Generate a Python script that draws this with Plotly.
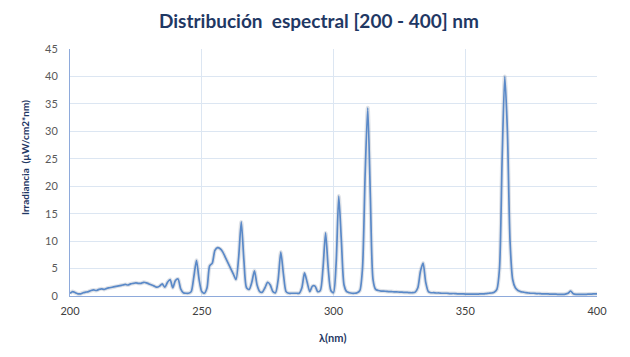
import plotly.graph_objects as go

wavelength = list(range(200, 401))

irradiance = [
    # 200-209
    0.5, 0.8, 0.6, 0.4, 0.4, 0.6, 0.7, 0.8, 1.0, 1.1,
    # 210-219
    1.0, 1.2, 1.3, 1.2, 1.4, 1.5, 1.6, 1.7, 1.8, 1.9,
    # 220-229
    2.0, 2.1, 2.0, 2.2, 2.3, 2.4, 2.3, 2.3, 2.5, 2.4,
    # 230-239
    2.2, 2.0, 1.8, 1.6, 1.8, 2.2, 1.6, 2.5, 3.0, 1.5,
    # 240-249
    2.8, 3.1, 1.3, 0.6, 0.5, 0.5, 0.8, 3.5, 6.5, 3.0,
    # 250-259
    0.8, 0.5, 1.5, 5.5, 6.0, 8.3, 8.8, 8.6, 8.0, 7.0,
    # 260-269
    6.0, 5.0, 4.0, 3.0, 7.0, 13.5, 6.5, 1.5, 1.2, 2.5,
    # 270-279
    4.6, 2.0, 0.8, 0.7, 1.5, 2.5, 2.0, 0.8, 0.6, 3.0,
    # 280-289
    8.0, 4.0, 0.8, 0.5, 0.5, 0.5, 0.5, 0.5, 1.5, 4.2,
    # 290-299
    2.5, 0.8, 1.8, 1.8, 0.8, 1.0, 5.0, 11.5, 5.0, 1.0,
    # 300-309
    0.6, 6.0, 18.2, 10.0, 2.0, 0.8, 0.6, 0.5, 0.5, 0.6,
    # 310-319
    1.0, 5.0, 22.0, 34.3, 18.0, 3.0, 1.2, 1.0, 0.9, 0.9,
    # 320-329
    0.85, 0.8, 0.8, 0.75, 0.75, 0.7, 0.7, 0.65, 0.65, 0.6,
    # 330-339
    0.6, 0.7, 1.5, 4.5, 6.0, 2.5, 0.8, 0.6, 0.6, 0.55,
    # 340-349
    0.55, 0.5, 0.5, 0.5, 0.45, 0.45, 0.45, 0.4, 0.4, 0.4,
    # 350-359
    0.35, 0.35, 0.35, 0.35, 0.35, 0.35, 0.4, 0.4, 0.45, 0.5,
    # 360-369
    0.55, 0.7, 1.2, 5.0, 25.0, 40.0, 30.0, 10.0, 3.0, 1.5,
    # 370-379
    1.0, 0.8, 0.7, 0.6, 0.55, 0.5, 0.5, 0.45, 0.45, 0.4,
    # 380-389
    0.4, 0.4, 0.35, 0.35, 0.35, 0.3, 0.3, 0.3, 0.35, 0.5,
    # 390-399
    0.9, 0.4, 0.3, 0.3, 0.3, 0.3, 0.3, 0.35, 0.35, 0.4,
    # 400
    0.4,
]

x_ticks = [200, 250, 300, 350, 400]
y_ticks = [0, 5, 10, 15, 20, 25, 30, 35, 40, 45]

title_text = "Distribución  espectral [200 - 400] nm"
x_title = "λ(nm)"
y_title = "Irradiancia  (µW/cm2*nm)"

# page body has an 8px margin, so the figure is drawn 8px in from the window corner
OFF = 8
W, H = 622, 349
ml, mt = 70 - OFF, 49 - OFF
plot_r, plot_b = 597 - OFF, 296 - OFF
mr, mb = W - plot_r, H - plot_b
pw, ph = W - ml - mr, H - mt - mb

navy = "#1f3864"
font_family = "Lato, 'Open Sans', sans-serif"

fig = go.Figure()
# soft shadow under the line
fig.add_trace(go.Scatter(
    x=wavelength, y=irradiance, mode="lines",
    line=dict(color="rgba(150,160,175,0.3)", width=4, shape="spline", smoothing=0.7),
    hoverinfo="skip", showlegend=False,
))
fig.add_trace(go.Scatter(
    x=wavelength, y=irradiance, mode="lines",
    line=dict(color="#5a89c8", width=1.7, shape="spline", smoothing=0.7),
    showlegend=False,
))

fig.update_layout(
    width=W, height=H,
    margin=dict(l=ml, r=mr, t=mt, b=mb, autoexpand=False),
    paper_bgcolor="white", plot_bgcolor="white",
    font=dict(family=font_family, color="#595959", size=11),
    title=dict(text=f"<b>{title_text}</b>", x=0.5, xanchor="center",
               y=1 - (21 - OFF) / H, yanchor="middle",
               font=dict(size=19, color=navy, family=font_family)),
    showlegend=False,
)
fig.update_xaxes(
    range=[200, 400], tickvals=x_ticks, ticktext=[str(t) for t in x_ticks],
    showgrid=True, gridcolor="#dce6f2", gridwidth=1,
    showline=True, linecolor="#8eaadb", linewidth=1,
    zeroline=False, ticks="", ticklabelstandoff=5,
    tickfont=dict(size=11, color="#404040"),
    automargin=False,
)
fig.update_yaxes(
    range=[0, 45], tickvals=y_ticks,
    showgrid=True, gridcolor="#dce6f2", gridwidth=1,
    showline=True, linecolor="#8eaadb", linewidth=1,
    zeroline=False, ticks="", ticklabelstandoff=9,
    tickfont=dict(size=11, color="#595959"),
    automargin=False,
)
# axis titles placed as annotations
fig.add_annotation(
    text=f"<b>{x_title}</b>", xref="paper", yref="paper",
    x=(333 - OFF - ml) / pw, y=-(337 - OFF - (mt + ph)) / ph,
    xanchor="center", yanchor="middle", showarrow=False,
    font=dict(size=11, color=navy, family=font_family),
)
fig.add_annotation(
    text=f"<b>{y_title}</b>", xref="paper", yref="paper",
    x=(25 - OFF - ml) / pw, y=1 - (158 - OFF - mt) / ph,
    xanchor="center", yanchor="middle", textangle=-90, showarrow=False,
    font=dict(size=10, color=navy, family=font_family),
)

fig.write_html("out.html")
